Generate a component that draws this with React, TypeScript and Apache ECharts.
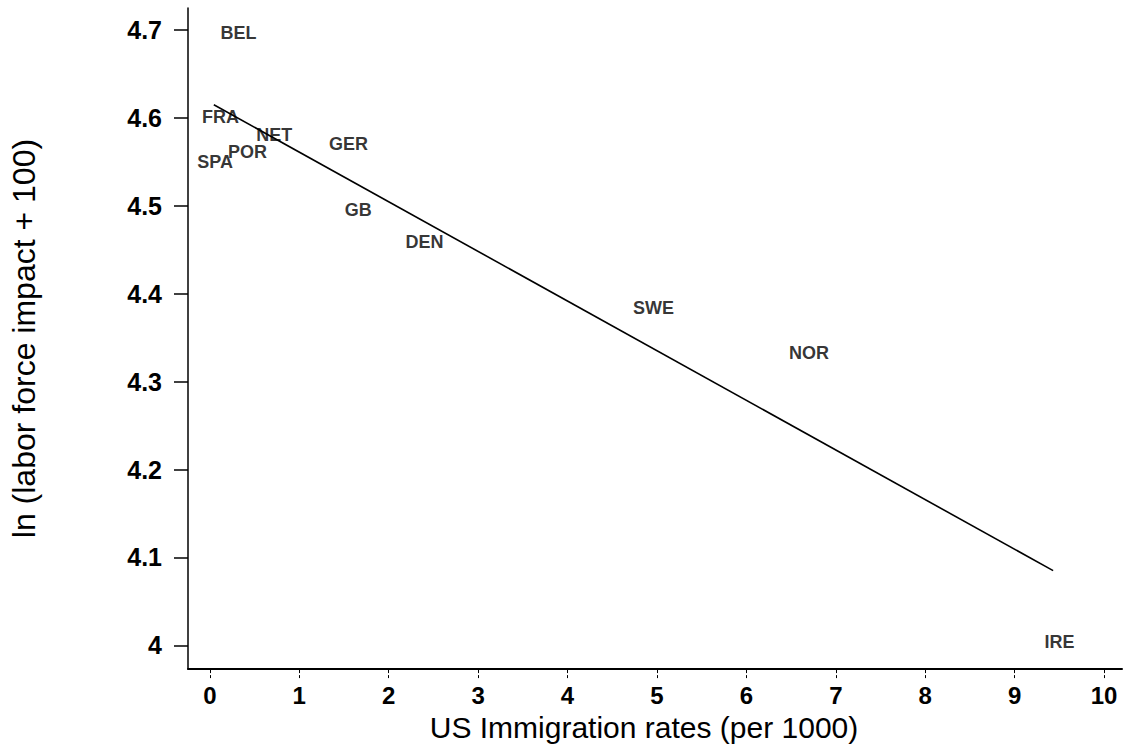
import React, { useEffect, useRef } from "react";
import * as echarts from "echarts";

const countries = ["BEL", "FRA", "NET", "GER", "POR", "SPA", "GB", "DEN", "SWE", "NOR", "IRE"];
const immigration = [0.32, 0.12, 0.72, 1.55, 0.42, 0.06, 1.66, 2.4, 4.96, 6.7, 9.5];
const lnImpact = [4.697, 4.601, 4.58, 4.57, 4.561, 4.55, 4.495, 4.459, 4.384, 4.332, 4.004];
const fitX = [0.045, 9.43];
const fitY = [4.615, 4.085];
const xTicks = [0, 1, 2, 3, 4, 5, 6, 7, 8, 9, 10];
const yTicks = [4.0, 4.1, 4.2, 4.3, 4.4, 4.5, 4.6, 4.7];

const FONT = "Liberation Sans";

export default function App() {
  const ref = useRef<HTMLDivElement>(null);
  useEffect(() => {
    if (!ref.current) return;
    const chart = echarts.init(ref.current, undefined, { renderer: "svg" });
    chart.setOption({
      animation: false,
      backgroundColor: "#ffffff",
      grid: { left: 182, right: 4, top: 8, bottom: 74, containLabel: false },
      xAxis: {
        type: "value",
        min: -0.244,
        max: 10.2,
        name: "US Immigration rates (per 1000)",
        nameLocation: "middle",
        nameGap: 29,
        nameTextStyle: { fontFamily: FONT, fontSize: 30, color: "#000", padding: [0, 22, 0, 0] },
        axisLine: { show: true, onZero: false, lineStyle: { color: "#000", width: 2 } },
        axisTick: { show: true, inside: false, length: 9, customValues: xTicks, lineStyle: { color: "#000", width: 1, type: "dashed" } },
        axisLabel: {
          customValues: xTicks,
          fontFamily: FONT,
          fontSize: 24,
          fontWeight: "bold",
          color: "#000",
          margin: 14,
          formatter: (v: number) => String(Math.round(v)),
        },
        splitLine: { show: false },
      },
      yAxis: {
        type: "value",
        min: 3.973,
        max: 4.725,
        name: "ln (labor force impact + 100)",
        nameLocation: "middle",
        nameGap: 148,
        nameRotate: 90,
        nameTextStyle: { fontFamily: FONT, fontSize: 32, color: "#000" },
        axisLine: { show: true, onZero: false, lineStyle: { color: "#000", width: 1.5 } },
        axisTick: { show: true, inside: false, length: 14, customValues: yTicks, lineStyle: { color: "#000", width: 1.5 } },
        axisLabel: {
          customValues: yTicks,
          fontFamily: FONT,
          fontSize: 25,
          fontWeight: "bold",
          color: "#000",
          margin: 26,
          formatter: (v: number) => Number(v).toFixed(1).replace(/\.0$/, ""),
        },
        splitLine: { show: false },
      },
      series: [
        {
          type: "line",
          data: fitX.map((x, i) => [x, fitY[i]]),
          showSymbol: false,
          symbol: "none",
          lineStyle: { color: "#000", width: 1.6 },
          z: 2,
        },
        {
          type: "scatter",
          data: immigration.map((x, i) => [x, lnImpact[i], countries[i]]),
          symbolSize: 1,
          itemStyle: { color: "rgba(0,0,0,0)" },
          label: {
            show: true,
            position: "inside",
            formatter: (p: any) => p.value[2],
            fontFamily: FONT,
            fontSize: 18,
            fontWeight: "bold",
            color: "#000",
            textBorderWidth: 0,
          },
          z: 3,
        },
      ],
    });
    return () => chart.dispose();
  }, []);
  return (
    <div
      ref={ref}
      style={{ position: "fixed", left: 0, top: 0, width: 1126, height: 747, background: "#fff" }}
    />
  );
}
